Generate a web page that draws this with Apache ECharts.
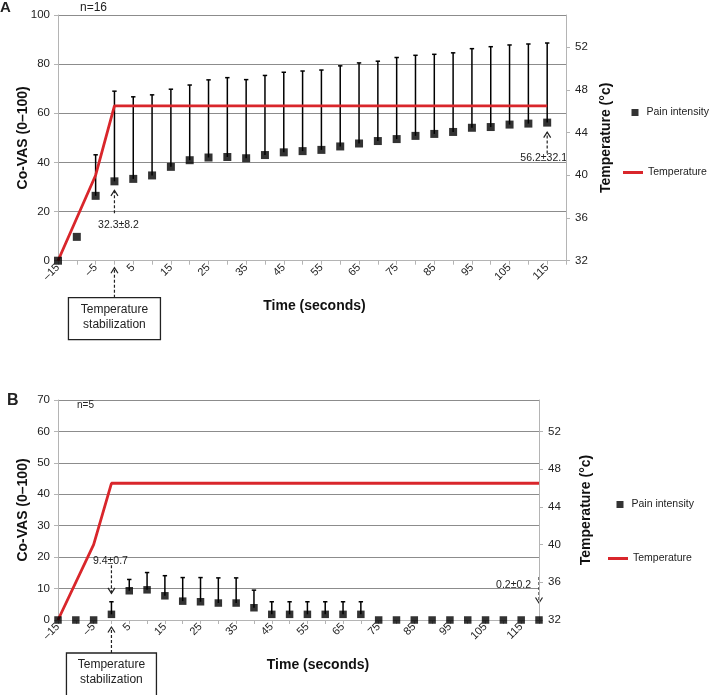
<!DOCTYPE html>
<html><head><meta charset="utf-8">
<script src="https://cdn.jsdelivr.net/npm/echarts@6/dist/echarts.min.js"></script>
<style>html,body{margin:0;padding:0;background:#fff}#c{width:709px;height:695px}</style>
</head><body><div id="c"></div>
<script>
// ---------- data ----------
const timeA  = [-15,-10,-5,0,5,10,15,20,25,30,35,40,45,50,55,60,65,70,75,80,85,90,95,100,105,110,115];
const painA  = [0,9.7,26.4,32.3,33.3,34.7,38.2,40.9,42.0,42.2,41.7,43.0,44.1,44.6,45.1,46.5,47.7,48.7,49.5,50.8,51.6,52.4,54.1,54.4,55.4,55.8,56.2];
const upperA = [null,null,43.1,69.0,66.7,67.5,69.8,71.5,73.6,74.5,73.7,75.4,76.7,77.2,77.6,79.3,80.5,81.2,82.7,83.6,84.0,84.6,86.3,87.1,87.8,88.2,88.6];
const tempTimeA = [-15,-5,0,115];
const tempA     = [32,40,46.5,46.5];

const timeB  = [-15,-10,-5,0,5,10,15,20,25,30,35,40,45,50,55,60,65,70,75,80,85,90,95,100,105,110,115,120];
const painB  = [0,0,0,1.8,9.3,9.6,7.7,6.0,5.8,5.4,5.4,3.9,1.8,1.8,1.8,1.8,1.8,1.8,0,0,0,0,0,0,0,0,0,0];
const upperB = [null,null,null,5.8,12.9,15.1,14.1,13.5,13.5,13.4,13.4,9.5,5.8,5.8,5.8,5.8,5.8,5.8,null,null,null,null,null,null,null,null,null,null];
const tempTimeB = [-15,-5,0,120];
const tempB     = [32,40,46.5,46.5];

const tempTicks = [32,36,40,44,48,52];
const labelledTimes = [-15,-5,5,15,25,35,45,55,65,75,85,95,105,115];

// ---------- styling ----------
const FONT = '"Liberation Sans", Arial, sans-serif';
const AXIS_GREY = '#b4b4b4';
const GRID_GREY = '#8c8c8c';
const TXT = '#222';
const RED = '#d9262b';

function xAxisCfg(gi, nameGap, padLeft) {
  return {
    type: 'value', gridIndex: gi, min: -15, max: 120, interval: 5,
    name: 'Time (seconds)', nameLocation: 'middle', nameGap: nameGap,
    nameTextStyle: {fontFamily: FONT, fontWeight: 'bold', fontSize: 14, color: '#111', padding: [0,0,0,padLeft]},
    axisLine: {show: true, onZero: false, lineStyle: {color: AXIS_GREY, width: 1}},
    axisTick: {show: true, length: 4, lineStyle: {color: AXIS_GREY}},
    splitLine: {show: false},
    axisLabel: {
      rotate: 45, margin: 5, fontFamily: FONT, fontSize: 11, color: TXT,
      showMinLabel: true, showMaxLabel: true,
      formatter: v => labelledTimes.indexOf(v) >= 0 ? (v < 0 ? '\u2013' + Math.abs(v) : String(v)) : ''
    }
  };
}
function leftAxisCfg(gi, max, interval, nameGap) {
  return {
    type: 'value', gridIndex: gi, position: 'left', min: 0, max: max, interval: interval,
    name: 'Co-VAS (0\u2013100)', nameLocation: 'middle', nameGap: nameGap, nameRotate: 90,
    nameMoveOverlap: false,
    nameTextStyle: {fontFamily: FONT, fontWeight: 'bold', fontSize: 14, color: '#111'},
    axisLine: {show: true, onZero: false, lineStyle: {color: AXIS_GREY}},
    axisTick: {show: true, length: 4, lineStyle: {color: AXIS_GREY}},
    splitLine: {show: true, lineStyle: {color: GRID_GREY, width: 1}},
    axisLabel: {margin: 8, fontFamily: FONT, fontSize: 11.5, color: TXT}
  };
}
function rightAxisCfg(gi, max, nameGap) {
  return {
    type: 'value', gridIndex: gi, position: 'right', min: 32, max: max,
    name: 'Temperature (\u00b0c)', nameLocation: 'middle', nameGap: nameGap, nameRotate: 90,
    nameTextStyle: {fontFamily: FONT, fontWeight: 'bold', fontSize: 14, color: '#111'},
    axisLine: {show: true, onZero: false, lineStyle: {color: AXIS_GREY}},
    axisTick: {show: true, length: 4, lineStyle: {color: AXIS_GREY}, customValues: tempTicks},
    splitLine: {show: false},
    axisLabel: {margin: 9, fontFamily: FONT, fontSize: 11.5, color: TXT, customValues: tempTicks}
  };
}

function errorSeries(xi, yi, times, means, uppers) {
  const data = [];
  times.forEach((t, i) => { if (uppers[i] != null) data.push([t, means[i], uppers[i]]); });
  return {
    type: 'custom', name: 'sd', xAxisIndex: xi, yAxisIndex: yi, z: 2, silent: true,
    encode: {x: 0, y: [1, 2]},
    data: data,
    renderItem: function (params, api) {
      const p1 = api.coord([api.value(0), api.value(1)]);
      const p2 = api.coord([api.value(0), api.value(2)]);
      const cap = 2.2;
      return {type: 'group', children: [
        {type: 'line', shape: {x1: p1[0], y1: p1[1], x2: p2[0], y2: p2[1]}, style: {stroke: '#000', lineWidth: 1.5}},
        {type: 'line', shape: {x1: p2[0] - cap, y1: p2[1], x2: p2[0] + cap, y2: p2[1]}, style: {stroke: '#000', lineWidth: 1.5}}
      ]};
    }
  };
}
function painSeries(xi, yi, times, means, size) {
  return {
    type: 'scatter', name: 'Pain intensity', xAxisIndex: xi, yAxisIndex: yi, z: 4,
    symbol: 'rect', symbolSize: size, clip: false,
    itemStyle: {color: '#000'},
    data: times.map((t, i) => [t, means[i]])
  };
}
function tempSeries(xi, yi, times, temps) {
  return {
    type: 'line', name: 'Temperature', xAxisIndex: xi, yAxisIndex: yi, z: 3,
    symbol: 'none', showSymbol: false, lineStyle: {color: RED, width: 2.8}, itemStyle: {color: RED},
    data: times.map((t, i) => [t, temps[i]])
  };
}
function legendCfg(name, left, top, w, h, textPad) {
  return {
    data: [{name: name, icon: 'rect'}], left: left, top: top, orient: 'vertical',
    itemWidth: w, itemHeight: h, selectedMode: false, padding: 0,
    textStyle: {fontFamily: FONT, fontSize: 10.5, color: TXT, padding: [0, 0, 0, textPad]}
  };
}

const chart = echarts.init(document.getElementById('c'), null, {renderer: 'canvas'});
chart.setOption({
  animation: false,
  backgroundColor: '#fff',
  grid: [
    {left: 58, top: 15, width: 508, height: 245.7},
    {left: 58, top: 400, width: 481, height: 220}
  ],
  xAxis: [xAxisCfg(0, 38, 5), xAxisCfg(1, 38, 39)],
  yAxis: [
    leftAxisCfg(0, 100, 20, 28),
    rightAxisCfg(0, 55, 29),
    leftAxisCfg(1, 70, 10, 28),
    rightAxisCfg(1, 55.33, 40)
  ],
  legend: [
    legendCfg('Pain intensity', 631.5, 107, 7, 7, 3),
    legendCfg('Temperature', 623, 167, 20, 3, 0),
    legendCfg('Pain intensity', 616.5, 499, 7, 7, 3),
    legendCfg('Temperature', 608, 553, 20, 3, 0)
  ],
  series: [
    errorSeries(0, 0, timeA, painA, upperA),
    tempSeries(0, 1, tempTimeA, tempA),
    painSeries(0, 0, timeA, painA, 8),
    errorSeries(1, 2, timeB, painB, upperB),
    tempSeries(1, 3, tempTimeB, tempB),
    painSeries(1, 2, timeB, painB, 7.5)
  ]
});

// ---------- annotations (positioned through the axes) ----------
const pxA = (x, y) => chart.convertToPixel({xAxisIndex: 0, yAxisIndex: 0}, [x, y]);
const pxB = (x, y) => chart.convertToPixel({xAxisIndex: 1, yAxisIndex: 2}, [x, y]);

function arrow(x, yTail, yHead) {
  const dir = yHead < yTail ? 1 : -1;
  return {type: 'group', silent: true, children: [
    {type: 'line', shape: {x1: x, y1: yTail, x2: x, y2: yHead}, style: {stroke: '#222', lineWidth: 1.2, lineDash: [3, 2]}},
    {type: 'polyline', shape: {points: [[x - 3.5, yHead + dir * 5.5], [x, yHead], [x + 3.5, yHead + dir * 5.5]]}, style: {stroke: '#222', lineWidth: 1.2, fill: null}}
  ]};
}
function txt(x, y, s, size, align, weight) {
  return {type: 'text', x: x, y: y, silent: true, style: {
    text: s, font: (weight || 'normal') + ' ' + size + 'px ' + FONT, fill: TXT,
    align: align || 'center', verticalAlign: 'middle', textAlign: align || 'center', textVerticalAlign: 'middle'
  }};
}
function stabBox(cx, top, w, h) {
  return [
    {type: 'rect', silent: true, shape: {x: cx - w / 2, y: top, width: w, height: h}, style: {fill: '#fff', stroke: '#222', lineWidth: 1.3}},
    txt(cx, top + 12, 'Temperature', 12),
    txt(cx, top + 26.5, 'stabilization', 12)
  ];
}

const a0 = pxA(0, 0);
const aP0 = pxA(0, painA[3]);
const aP115 = pxA(115, painA[26]);
const aEnd = pxA(120, 0);
const b0 = pxB(0, 0);
const bP0 = pxB(0, painB[3]);
const bEnd = pxB(120, 0);

const g = [];
g.push(txt(0, 8, 'A', 15, 'left', 'bold'));
g.push(txt(80, 8, 'n=16', 12, 'left'));
g.push(arrow(a0[0], a0[1] + 37, a0[1] + 7));
g.push(...stabBox(a0[0], a0[1] + 37, 92, 42));
g.push(arrow(aP0[0], aP0[1] + 32, aP0[1] + 9));
g.push(txt(aP0[0] + 4, aP0[1] + 44, '32.3\u00b18.2', 10.5));
g.push(arrow(aP115[0], aP115[1] + 31, aP115[1] + 9.5));
g.push(txt(aEnd[0] + 1, aP115[1] + 35, '56.2\u00b132.1', 10.5, 'right'));

g.push(txt(7, 401, 'B', 16, 'left', 'bold'));
g.push(txt(77, 405, 'n=5', 10, 'left'));
g.push(arrow(b0[0], b0[1] + 33, b0[1] + 7));
g.push(...stabBox(b0[0], b0[1] + 33, 90, 44));
g.push(arrow(bP0[0], bP0[1] - 49, bP0[1] - 21));
g.push(txt(bP0[0] - 1, bP0[1] - 53, '9.4\u00b10.7', 10.5));
g.push(arrow(bEnd[0], bEnd[1] - 43, bEnd[1] - 17));
g.push(txt(bEnd[0] - 8, bEnd[1] - 35, '0.2\u00b10.2', 10.5, 'right'));

chart.setOption({graphic: {elements: g}});
</script>
</body></html>
